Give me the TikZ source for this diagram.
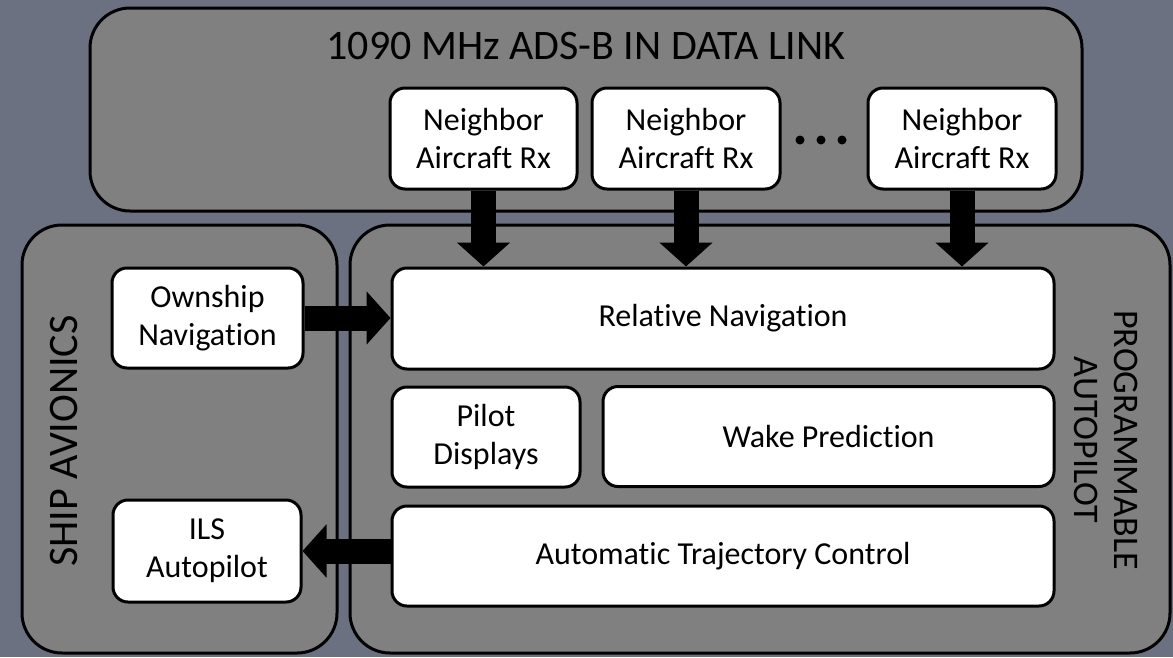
\documentclass[tikz,border=0pt]{standalone}
\usepackage{fontspec}
\setmainfont{Carlito}[Ligatures=NoCommon]
\usetikzlibrary{arrows.meta}
\definecolor{backdrop}{RGB}{108,113,129}
\definecolor{panelgray}{RGB}{128,128,128}

\begin{document}
\begin{tikzpicture}[x=1pt, y=-1pt,
    panel/.style = {shape=rectangle, rounded corners=40pt, draw, line width=3pt,
      fill=panelgray, inner sep=0pt},
    block/.style = {shape=rectangle, rounded corners=15pt, draw, line width=3pt,
      fill=white, align=center, inner sep=0pt,
      font=\fontsize{32}{38}\selectfont},
    title/.style = {align=center, font=\fontsize{42}{44}\selectfont},
    fatarrow/.style = {line width=25pt, -{Triangle[length=24pt,width=52pt]}}]
  % background
  \fill[backdrop] (0,0) rectangle (1173,657);
  \useasboundingbox (0,0) rectangle (1173,657);

  % panels
  \node[panel, minimum width=992pt, minimum height=203pt] (datalink) at (586,109.5) {};
  \node[panel, minimum width=315pt, minimum height=428pt] (ship) at (179.5,439) {};
  \node[panel, minimum width=820pt, minimum height=428pt] (prog) at (760,439) {};
  \node[title] at (586,46) {1090 MHz ADS-B IN DATA LINK};
  \node[title, rotate=90] at (64,441) {SHIP AVIONICS};
  \node[title, rotate=-90, font=\fontsize{36}{40}\selectfont] at (1106,440) {PROGRAMMABLE\\AUTOPILOT};

  % receivers
  \node[block, minimum width=187pt, minimum height=101pt] (rx1) at (483.5,138.5) {Neighbor\\Aircraft Rx};
  \node[block, minimum width=188pt, minimum height=101pt] (rx2) at (686,138.5) {Neighbor\\Aircraft Rx};
  \node[block, minimum width=188pt, minimum height=101pt] (rx3) at (962,138.5) {Neighbor\\Aircraft Rx};
  \foreach \dx in {800,821,842}
    \fill (\dx,140) circle (4.5pt);

  % autopilot blocks
  \node[block, minimum width=662pt, minimum height=101pt] (relnav) at (723,318.5) {Relative Navigation};
  \node[block, minimum width=188pt, minimum height=100pt] (pilot) at (486,437) {Pilot\\Displays};
  \node[block, minimum width=451pt, minimum height=100pt] (wake) at (828.5,436.5) {Wake Prediction};
  \node[block, minimum width=662pt, minimum height=100pt] (traj) at (723,556) {Automatic Trajectory Control};

  % ship blocks
  \node[block, minimum width=191pt, minimum height=100pt] (ownnav) at (207.5,318) {Ownship\\Navigation};
  \node[block, minimum width=188pt, minimum height=102pt] (ils) at (207,551) {ILS\\Autopilot};

  % arrows
  \foreach \r in {rx1,rx2,rx3}
    \draw[fatarrow] (\r.south) -- (\r.south |- relnav.north);
  \draw[fatarrow] (ownnav.east) -- (ownnav.east -| relnav.west);
  \draw[fatarrow] (traj.west |- ils.east) -- (ils.east);
\end{tikzpicture}
\end{document}
